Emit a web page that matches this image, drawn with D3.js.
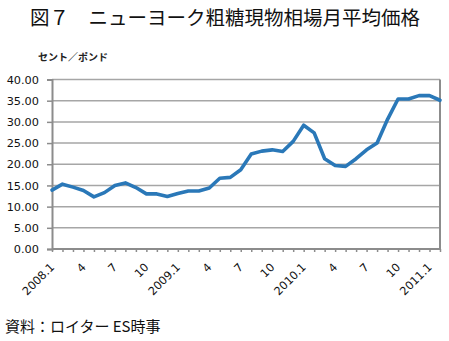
<!DOCTYPE html>
<html><head><meta charset="utf-8">
<script src="https://cdn.jsdelivr.net/npm/d3@7/dist/d3.min.js"></script>
<style>
html,body{margin:0;padding:0;background:#fff;}
svg{display:block;}
</style></head>
<body>
<script>
const title = "図７　ニューヨーク粗糖現物相場月平均価格";
const unitLabel = "セント／ポンド";
const sourceLabel = "資料：ロイター ES時事";
const months = [
 "2008.1","2008.2","2008.3","2008.4","2008.5","2008.6","2008.7","2008.8","2008.9","2008.10","2008.11","2008.12",
 "2009.1","2009.2","2009.3","2009.4","2009.5","2009.6","2009.7","2009.8","2009.9","2009.10","2009.11","2009.12",
 "2010.1","2010.2","2010.3","2010.4","2010.5","2010.6","2010.7","2010.8","2010.9","2010.10","2010.11","2010.12",
 "2011.1","2011.2"];
const prices = [
 13.9,15.3,14.6,13.8,12.3,13.3,15.0,15.6,14.5,13.0,13.0,12.4,
 13.1,13.7,13.7,14.4,16.7,16.9,18.7,22.4,23.1,23.4,23.0,25.4,
 29.2,27.4,21.3,19.7,19.5,21.3,23.4,25.0,30.6,35.4,35.4,36.2,
 36.2,35.1];
const xTickLabels = {"2008.1":"2008.1","2008.4":"4","2008.7":"7","2008.10":"10",
 "2009.1":"2009.1","2009.4":"4","2009.7":"7","2009.10":"10",
 "2010.1":"2010.1","2010.4":"4","2010.7":"7","2010.10":"10","2011.1":"2011.1"};
const yTicks = [0,5,10,15,20,25,30,35,40];

const W = 449, H = 341;
const m = {left:52, right:9, top:79.5, bottom:92};
const svg = d3.select("body").append("svg").attr("width",W).attr("height",H);

const x = d3.scalePoint().domain(months).range([m.left, W - m.right]);
const y = d3.scaleLinear().domain([0,40]).range([H - m.bottom, m.top]);

// title
svg.append("text").attr("x",225).attr("y",25).attr("text-anchor","middle")
  .attr("font-family","'Noto Sans CJK JP'").attr("font-size",19.5).attr("fill","#111")
  .text(title);
svg.append("text").attr("x",38).attr("y",61)
  .attr("font-family","'Noto Sans CJK JP'").attr("font-size",10).attr("font-weight","bold").attr("fill","#222")
  .text(unitLabel);

// gridlines
svg.append("g").selectAll("line").data(yTicks.filter(d=>d>0)).join("line")
  .attr("x1",m.left).attr("x2",W-m.right).attr("y1",d=>y(d)).attr("y2",d=>y(d))
  .attr("stroke","#a6a6a6").attr("stroke-width",1.5);
// right border
svg.append("line").attr("x1",W-m.right).attr("x2",W-m.right).attr("y1",y(40)).attr("y2",y(0))
  .attr("stroke","#8c8c8c").attr("stroke-width",2);

// y axis
const ya = svg.append("g").attr("transform",`translate(${m.left},0)`)
  .call(d3.axisLeft(y).tickValues(yTicks).tickFormat(d3.format(".2f")).tickSize(5).tickPadding(8));
ya.select(".domain").attr("stroke","#8c8c8c").attr("stroke-width",2);
ya.selectAll(".tick line").attr("stroke","#8c8c8c").attr("stroke-width",1.5);
ya.selectAll("text").attr("font-family","'DejaVu Sans'").attr("font-size",11.3).attr("fill","#111");

// x axis
const xa = svg.append("g").attr("transform",`translate(0,${H-m.bottom})`)
  .call(d3.axisBottom(x).tickSize(3).tickFormat(""));
xa.select(".domain").attr("stroke","#8c8c8c").attr("stroke-width",2).attr("d",`M${m.left},0H${W-m.right}`);
xa.selectAll(".tick line").attr("stroke","#8c8c8c").attr("stroke-width",1.5);

svg.append("g").selectAll("text").data(months.filter(d=>xTickLabels[d])).join("text")
  .attr("transform",d=>`translate(${x(d)+3},${H-m.bottom+19}) rotate(-45)`)
  .attr("text-anchor","end")
  .attr("font-family","'DejaVu Sans'").attr("font-size",11.3).attr("fill","#111")
  .text(d=>xTickLabels[d]);

// line
svg.append("path").datum(months.map((d,i)=>[d,prices[i]]))
  .attr("fill","none").attr("stroke","#2a78b8").attr("stroke-width",3.6)
  .attr("stroke-linejoin","round").attr("stroke-linecap","round")
  .attr("d",d3.line().x(d=>x(d[0])).y(d=>y(d[1])));

// source
svg.append("text").attr("x",5).attr("y",332)
  .attr("font-family","'Noto Sans CJK JP'").attr("font-size",15).attr("fill","#111")
  .text(sourceLabel);
</script>
</body></html>
